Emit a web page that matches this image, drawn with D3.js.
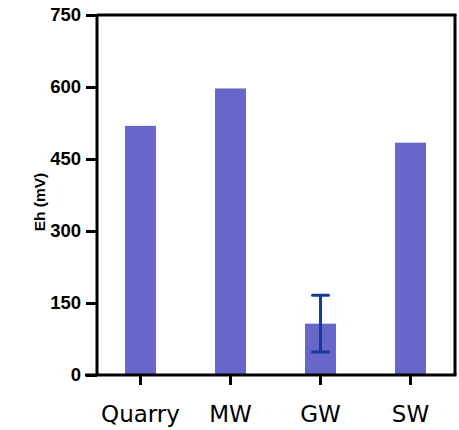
<!DOCTYPE html>
<html><head><meta charset="utf-8">
<script src="https://cdn.jsdelivr.net/npm/d3@7"></script>
<style>html,body{margin:0;padding:0;background:#fff;}</style>
</head><body>
<svg id="chart" width="459" height="430"></svg>
<script>
const categories = ["Quarry", "MW", "GW", "SW"];
const values = [519, 597, 107, 484];
const errors = [0, 0, 59, 0];
const yTicks = [0, 150, 300, 450, 600, 750];
const yLabel = "Eh (mV)";

(function () {
const svg = d3.select("#chart");
const pLeft = 97, pRight = 455, pTop = 15, pBottom = 375;

const x = d3.scaleBand().domain(categories).range([95.5, 455.5]).paddingInner(0.656).paddingOuter(0.328);
const y = d3.scaleLinear().domain([0, 750]).range([pBottom, pTop]);

svg.append("g").selectAll("rect").data(categories).join("rect")
  .attr("x", d => x(d))
  .attr("width", x.bandwidth())
  .attr("y", (d, i) => y(values[i]))
  .attr("height", (d, i) => y(0) - y(values[i]))
  .attr("fill", "#6866c9");

const eb = svg.append("g").attr("stroke", "#1a3a98").attr("stroke-width", 3).attr("fill", "none");
categories.forEach((c, i) => {
  if (!errors[i]) return;
  const cx = x(c) + x.bandwidth() / 2;
  const y1 = y(values[i] + errors[i]), y2 = y(values[i] - errors[i]);
  eb.append("line").attr("x1", cx).attr("x2", cx).attr("y1", y1).attr("y2", y2);
  eb.append("line").attr("x1", cx - 8).attr("x2", cx + 8).attr("y1", y1).attr("y2", y1).attr("stroke-linecap", "round");
  eb.append("line").attr("x1", cx - 8).attr("x2", cx + 8).attr("y1", y2).attr("y2", y2).attr("stroke-linecap", "round");
});

svg.append("line").attr("x1", pLeft).attr("x2", pRight + 1.5).attr("y1", pTop).attr("y2", pTop).attr("stroke", "#000").attr("stroke-width", 3);
svg.append("line").attr("x1", pRight).attr("x2", pRight).attr("y1", pTop).attr("y2", pBottom).attr("stroke", "#000").attr("stroke-width", 3);

const yAxis = svg.append("g").attr("transform", `translate(${pLeft},0)`)
  .call(d3.axisLeft(y).tickValues(yTicks).tickSize(11).tickPadding(5).tickFormat(d3.format("d")));
yAxis.select(".domain").attr("stroke-width", 3).attr("d", `M0,${pTop}V${pBottom}`);
yAxis.selectAll(".tick line").attr("stroke-width", 3);
yAxis.selectAll("text").style("font-family", "'Liberation Sans', Arial, sans-serif").style("font-weight", "bold").style("font-size", "18.5px").attr("fill", "#000");

const xAxis = svg.append("g").attr("transform", `translate(0,${pBottom})`)
  .call(d3.axisBottom(x).tickSize(10).tickPadding(21));
xAxis.select(".domain").attr("stroke-width", 3).attr("d", `M${pLeft - 12},0H${pRight + 1.5}`);
xAxis.selectAll(".tick line").attr("stroke-width", 3);
xAxis.selectAll("text").style("font-family", "'DejaVu Sans', sans-serif").style("font-size", "23px").attr("fill", "#000");

svg.append("text")
  .attr("transform", `translate(45,${(pTop + pBottom) / 2 + 7}) rotate(-90)`)
  .attr("text-anchor", "middle")
  .style("font-family", "'Liberation Sans', Arial, sans-serif")
  .style("font-weight", "bold").style("font-size", "15.5px").attr("fill", "#000")
  .text(yLabel);
})();
</script>
</body></html>
